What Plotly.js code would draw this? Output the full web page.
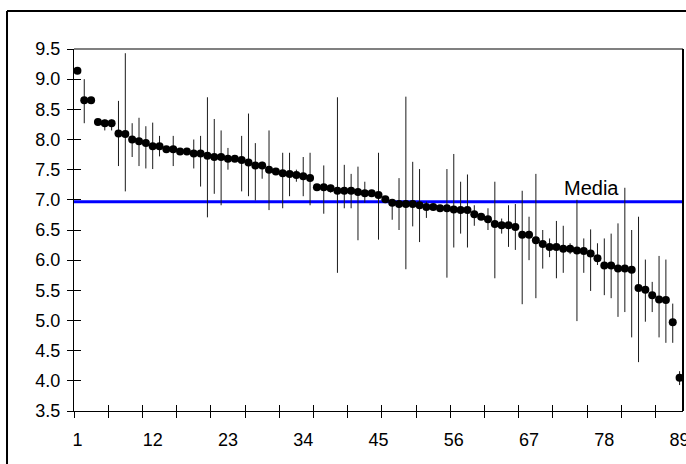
<!DOCTYPE html>
<html>
<head>
<meta charset="utf-8">
<script src="https://cdn.plot.ly/plotly-3.0.1.min.js"></script>
<style>html,body{margin:0;padding:0;background:#fff;overflow:hidden;}#chart{width:686px;height:464px;}</style>
</head>
<body>
<div id="chart"></div>
<script>
// Mean score per item (sorted)
const values = [
  9.14, 8.65, 8.65, 8.29, 8.27, 8.27, 8.10, 8.09, 8.00, 7.97,
  7.94, 7.89, 7.89, 7.84, 7.84, 7.80, 7.80, 7.77, 7.77, 7.73,
  7.71, 7.71, 7.68, 7.68, 7.66, 7.62, 7.57, 7.57, 7.50, 7.47,
  7.44, 7.43, 7.41, 7.39, 7.36, 7.21, 7.21, 7.19, 7.15, 7.15,
  7.15, 7.13, 7.11, 7.11, 7.08, 7.01, 6.95, 6.93, 6.93, 6.93,
  6.91, 6.88, 6.88, 6.86, 6.86, 6.84, 6.83, 6.83, 6.76, 6.72,
  6.68, 6.60, 6.58, 6.58, 6.55, 6.42, 6.42, 6.33, 6.27, 6.22,
  6.22, 6.19, 6.19, 6.16, 6.15, 6.11, 6.03, 5.91, 5.91, 5.86,
  5.86, 5.84, 5.54, 5.51, 5.42, 5.35, 5.34, 4.97, 4.05
];
// Upper and lower ends of the error bars (null = no visible bar)
const upper = [
  null, 9.00, null, null, 8.33, 8.33, 8.64, 9.43, 8.27, 8.36,
  8.22, 8.28, 8.06, null, 8.06, null, null, 8.00, 8.06, 8.70,
  8.34, 8.15, 7.86, null, 8.06, 8.43, 7.94, 7.63, 8.15, null,
  7.78, 7.78, 7.50, 7.71, 7.78, null, 7.57, 7.25, 8.70, 7.58,
  7.43, 7.55, 7.30, null, 7.78, null, 7.00, 7.36, 8.71, 7.63,
  7.51, 6.97, null, null, 7.51, 7.76, 7.30, 7.42, 6.91, null,
  6.86, 7.30, 6.69, 6.91, 6.93, 7.15, 6.72, 7.43, 6.50, 6.36,
  6.65, 6.57, 6.28, 7.00, 6.36, 6.51, 6.28, 6.36, 6.44, 6.61,
  7.20, 6.50, 6.72, 6.01, 5.64, 6.07, 6.01, 5.28, 4.16
];
const lower = [
  null, 8.27, null, null, 8.15, 8.15, 7.56, 7.14, 7.71, 7.56,
  7.52, 7.51, 7.72, null, 7.56, null, null, 7.52, 7.22, 6.71,
  7.10, 6.91, 7.50, null, 7.14, 7.06, 6.99, 7.35, 6.83, null,
  6.86, 7.06, 7.30, 7.06, 6.91, null, 6.77, 7.12, 5.79, 6.86,
  6.86, 6.33, 6.95, null, 6.34, null, 6.67, 6.50, 5.85, 6.56,
  6.30, 6.70, null, null, 5.71, 6.21, 6.44, 6.21, 6.57, null,
  6.50, 5.70, 6.44, 6.22, 6.17, 5.27, 6.00, 5.37, 5.86, 6.05,
  5.70, 5.79, 6.10, 4.99, 5.79, 5.49, 5.92, 5.42, 5.37, 5.06,
  5.14, 4.72, 4.31, 4.98, 5.14, 4.72, 4.63, 4.63, 3.93
];
const mediaValue = 6.97;
const mediaLabel = 'Media';
const xTickVals = [1, 12, 23, 34, 45, 56, 67, 78, 89];
const xTickText = ['1', '12', '23', '34', '45', '56', '67', '78', '89'];
const xMarkVals = [0.5, 5.5, 10.5, 15.5, 20.5, 25.5, 30.5, 35.5, 40.5, 45.5, 50.5, 55.5, 60.5, 65.5, 70.5, 75.5, 80.5, 85.5];

const items = values.map((v, i) => i + 1);
const errPlus = values.map((v, i) => upper[i] === null ? 0 : upper[i] - v);
const errMinus = values.map((v, i) => lower[i] === null ? 0 : v - lower[i]);

const FONT = 'Liberation Sans, Arial, sans-serif';

const traces = [
  {
    type: 'scatter', mode: 'markers', x: items, y: values,
    marker: {color: '#000', size: 8},
    error_y: {type: 'data', symmetric: false, array: errPlus, arrayminus: errMinus,
              color: '#1a1a1a', thickness: 1, width: 0},
    cliponaxis: false, hoverinfo: 'x+y', showlegend: false
  },
  {type: 'scatter', mode: 'markers', x: [], y: [], xaxis: 'x2', yaxis: 'y', showlegend: false},
  {type: 'scatter', mode: 'markers', x: [], y: [], xaxis: 'x3', yaxis: 'y', showlegend: false},
  {type: 'scatter', mode: 'markers', x: [], y: [], xaxis: 'x', yaxis: 'y2', showlegend: false}
];

const xr = [0.5, 89.5];
const yr = [3.5, 9.5];

const layout = {
  width: 686, height: 464,
  margin: {l: 74, r: 3, t: 49, b: 53, pad: 0},
  paper_bgcolor: '#fff', plot_bgcolor: '#fff',
  font: {family: FONT, color: '#000', size: 18},
  showlegend: false,
  xaxis: {
    range: xr, tickmode: 'array', tickvals: xTickVals, ticktext: xTickText,
    ticks: '', showgrid: false, zeroline: false,
    showline: true, linecolor: '#000', linewidth: 1,
    tickfont: {family: FONT, size: 18, color: '#000'},
    ticklabelstandoff: 12, ticklabeloverflow: 'allow'
  },
  xaxis2: {
    overlaying: 'x', anchor: 'y', range: xr, tickmode: 'array', tickvals: xMarkVals,
    ticks: 'outside', ticklen: 6, tickcolor: '#000', tickwidth: 1,
    showticklabels: false, showgrid: false, zeroline: false, showline: false
  },
  xaxis3: {
    overlaying: 'x', anchor: 'y', range: xr, tickmode: 'array', tickvals: xMarkVals,
    ticks: 'inside', ticklen: 6, tickcolor: '#000', tickwidth: 1,
    showticklabels: false, showgrid: false, zeroline: false, showline: false
  },
  yaxis: {
    range: yr, tickmode: 'linear', tick0: 3.5, dtick: 0.5, tickformat: '.1f',
    ticks: 'outside', ticklen: 6, tickcolor: '#000', tickwidth: 1,
    showgrid: false, zeroline: false, showline: true, linecolor: '#000', linewidth: 1,
    tickfont: {family: FONT, size: 18, color: '#000'},
    ticklabelstandoff: 3
  },
  yaxis2: {
    overlaying: 'y', anchor: 'x', side: 'left', range: yr, tickmode: 'linear', tick0: 3.5, dtick: 0.5,
    ticks: 'inside', ticklen: 7, tickcolor: '#000', tickwidth: 1,
    showticklabels: false, showgrid: false, zeroline: false, showline: false
  },
  shapes: [
    {type: 'line', xref: 'paper', yref: 'y', x0: 0, x1: 1, y0: mediaValue, y1: mediaValue,
     line: {color: '#0000ff', width: 3}, layer: 'below'},
    {type: 'line', xref: 'paper', yref: 'paper', x0: 0, x1: 1, y0: 1, y1: 1,
     line: {color: '#808080', width: 2}},
    {type: 'line', xref: 'paper', yref: 'paper', x0: 1, x1: 1, y0: 0, y1: 1,
     line: {color: '#000', width: 2}},
    {type: 'line', xref: 'paper', yref: 'paper', x0: -0.110, x1: 1.05, y0: 1.105, y1: 1.105,
     line: {color: '#000', width: 2}},
    {type: 'line', xref: 'paper', yref: 'paper', x0: -0.110, x1: -0.110, y0: -0.25, y1: 1.105,
     line: {color: '#000', width: 2}}
  ],
  annotations: [
    {text: mediaLabel, xref: 'x', yref: 'y', x: 76.1, y: mediaValue,
     xanchor: 'center', yanchor: 'bottom', yshift: 1, showarrow: false,
     font: {family: FONT, size: 20, color: '#000'}}
  ]
};

Plotly.newPlot('chart', traces, layout, {displayModeBar: false, staticPlot: true});
</script>
</body>
</html>
